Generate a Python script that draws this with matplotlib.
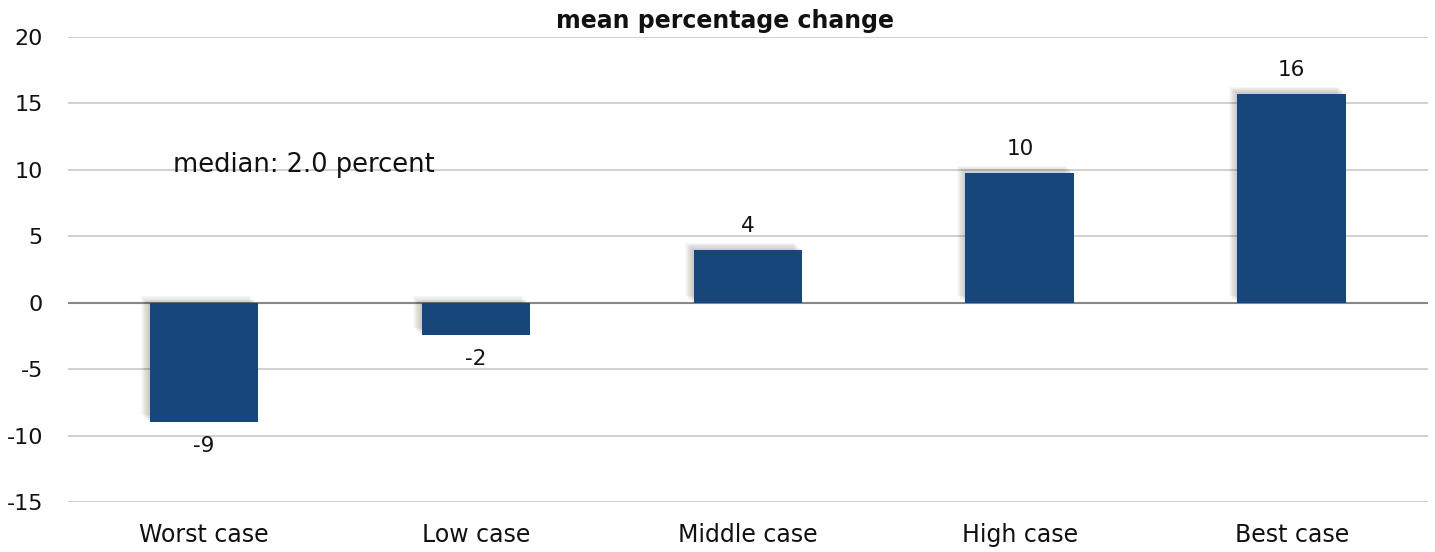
import matplotlib
matplotlib.use("Agg")
import matplotlib.pyplot as plt
import matplotlib.patheffects as pe

categories = ["Worst case", "Low case", "Middle case", "High case", "Best case"]
values = [-8.95, -2.4, 4.0, 9.8, 15.75]
labels = ["-9", "-2", "4", "10", "16"]
yticks = [-15, -10, -5, 0, 5, 10, 15, 20]
title = "mean percentage change"
note = "median: 2.0 percent"

plt.rcParams['font.family'] = ['DejaVu Sans']

fig = plt.figure(figsize=(14.35, 5.52), dpi=100)
ax = fig.add_axes([0.0474, 0.0897, 0.9476, 0.8433])

x = list(range(len(categories)))
shadow = [pe.SimplePatchShadow(offset=(-o, o * 0.8), shadow_rgbFace='black', alpha=0.035)
          for o in (6, 5, 4, 3, 2, 1)] + [pe.Normal()]
bars = ax.bar(x, values, width=0.4, color="#17477a", zorder=3)
for b in bars:
    b.set_path_effects(shadow)

for xi, v, lab in zip(x, values, labels):
    off = 10 if v >= 0 else -10
    ax.annotate(lab, (xi, v), xytext=(0, off), textcoords="offset points",
                ha="center", va="bottom" if v >= 0 else "top", fontsize=15.5, color="#111111")

ax.set_xlim(-0.5, 4.5)
ax.set_ylim(-15, 20)
ax.set_yticks(yticks)
ax.set_yticklabels([str(t) for t in yticks], fontsize=16)
ax.set_xticks(x)
ax.set_xticklabels(categories, fontsize=17)
ax.tick_params(axis="both", length=0, colors="#111111")
ax.tick_params(axis="x", pad=15)
ax.tick_params(axis="y", pad=18)
for s in ax.spines.values():
    s.set_visible(False)
ax.grid(axis="y", color="#c8c8c8", linewidth=1.2, zorder=0)
ax.axhline(0, color="#888888", linewidth=1.5, zorder=2)

ax.text(-0.115, 10.4, note, fontsize=18.5, ha="left", va="center", color="#111111")
fig.text(0.505, 0.962, title, fontsize=17, fontweight="bold", ha="center", va="center", color="#111111")

fig.savefig("out.png", dpi=100)
